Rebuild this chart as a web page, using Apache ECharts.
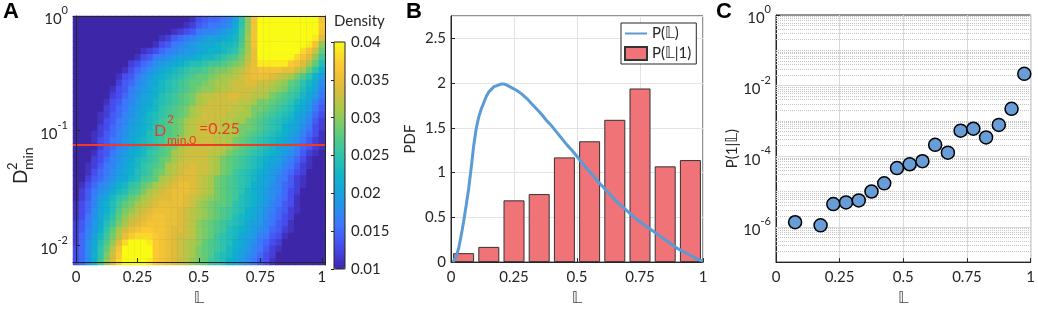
<!DOCTYPE html>
<html>
<head>
<meta charset="utf-8">
<script src="https://cdn.jsdelivr.net/npm/echarts@6/dist/echarts.min.js"></script>
<style>
html, body { margin: 0; padding: 0; background: #fff; }
#main { width: 1038px; height: 311px; }
</style>
</head>
<body>
<div id="main"></div>
<script>
var FONT = 'Lato, "DejaVu Sans", sans-serif';
var TXT = '#262626';
var RED = '#ec3b26';

// ---- panel A : density of D2min vs L ----
var binL = [0,0.025,0.05,0.075,0.1,0.125,0.15,0.175,0.2,0.225,0.25,0.275,0.3,0.325,0.35,0.375,0.4,0.425,0.45,0.475,0.5,0.525,0.55,0.575,0.6,0.625,0.65,0.675,0.7,0.725,0.75,0.775,0.8,0.825,0.85,0.875,0.9,0.925,0.95,0.975,1];
var ticksL = [0, 0.25, 0.5, 0.75, 1];
var d2Min = 0.00716, d2Max = 1;     // log y range of panel A
var thresholdD2 = 0.075;            // red line
// density x1000, rows from top (D2min = 1) to bottom
var densityRows = [
[10,10,10,10,10,10,10,10,10,10,10,10,10,10,10,10,10,10,10,11,13,14,15,15,16,17,20,25,30,36,41,41,41,41,41,41,41,41,41,41,36],
[10,10,10,10,10,10,10,10,10,10,10,10,10,10,10,10,10,10,11,12,14,15,16,16,17,18,21,25,30,36,41,41,41,41,41,41,41,41,41,41,37],
[10,10,10,10,10,10,10,10,10,10,10,10,10,10,10,10,11,12,13,14,16,17,17,18,19,20,22,26,30,36,41,41,41,41,41,41,41,41,41,40,36],
[10,10,10,10,10,10,10,10,10,10,10,10,10,10,11,12,14,15,16,17,18,19,20,20,21,22,23,26,31,36,41,41,41,41,41,41,41,41,41,39,34],
[10,10,10,10,10,10,10,10,10,10,10,10,10,11,13,14,16,17,18,19,20,21,21,22,23,23,24,27,31,36,41,41,41,41,41,41,41,41,39,36,30],
[10,10,10,10,10,10,10,10,10,10,10,11,12,13,15,16,17,18,19,19,20,21,22,22,23,24,25,28,31,35,40,40,40,40,40,40,40,38,36,33,28],
[10,10,10,10,10,10,10,10,10,10,11,13,14,16,17,18,19,20,20,21,22,23,23,24,25,26,27,29,32,35,40,40,40,40,40,40,38,36,34,30,26],
[10,10,10,10,10,10,10,10,10,12,13,15,16,18,19,20,21,22,23,24,24,25,26,26,27,28,29,30,33,35,39,39,39,39,39,37,36,34,31,28,24],
[10,10,10,10,10,10,10,10,11,13,15,16,18,19,21,22,23,24,25,26,26,27,28,29,29,30,31,32,34,35,36,36,36,36,35,35,33,31,28,25,22],
[10,10,10,10,10,10,10,11,13,14,16,18,19,21,22,23,24,25,26,27,28,28,29,30,31,31,32,33,34,35,35,35,34,33,32,31,29,27,25,22,19],
[10,10,10,10,10,10,10,12,14,15,17,18,20,21,23,24,25,26,27,28,28,29,30,31,31,32,33,33,34,34,33,33,32,31,30,28,27,25,23,21,18],
[10,10,10,10,10,10,11,13,14,16,18,19,20,22,23,24,25,26,27,28,29,30,30,31,32,32,33,33,33,33,32,32,31,30,29,27,26,24,22,20,17],
[10,10,10,10,10,10,12,13,15,17,18,20,21,22,24,25,26,27,28,29,31,32,32,33,33,34,34,33,33,32,32,31,29,28,27,26,25,23,21,19,16],
[10,10,10,10,10,11,13,14,16,17,19,20,21,23,24,25,26,27,28,29,31,32,33,33,33,33,33,32,32,31,29,29,28,27,26,25,23,22,20,17,15],
[10,10,10,10,10,12,13,15,16,18,19,21,22,23,25,26,27,28,29,31,32,33,33,33,33,33,32,32,31,29,29,28,27,26,25,24,22,21,19,16,14],
[10,10,10,10,11,12,14,15,17,18,20,21,23,24,25,26,27,28,29,31,32,33,33,33,33,32,32,31,31,29,28,27,26,25,24,23,21,20,18,15,13],
[10,10,10,10,11,13,14,16,17,19,20,22,23,24,26,27,28,29,31,32,33,33,33,33,32,32,31,31,29,28,27,26,25,24,23,22,20,19,17,14,12],
[10,10,10,10,12,13,15,16,18,19,21,22,23,25,26,27,28,29,31,32,33,33,33,33,32,32,31,29,29,28,27,26,25,24,22,21,20,18,16,13,12],
[10,10,10,11,12,14,15,17,18,20,21,22,24,25,26,27,28,29,31,32,33,33,33,32,32,31,31,29,28,27,26,25,24,23,22,20,19,17,15,13,11],
[10,10,10,11,13,14,16,17,19,20,22,23,24,25,26,28,29,31,32,33,33,33,33,32,32,31,29,28,27,26,25,24,23,22,21,19,18,16,14,12,11],
[10,10,10,10,12,14,15,17,18,20,21,23,24,25,27,28,29,31,32,33,33,33,33,32,32,31,29,28,27,26,25,24,23,21,20,19,17,15,14,12,11],
[10,10,10,11,13,14,16,18,19,21,22,23,25,26,27,28,31,32,33,33,33,33,32,32,31,29,28,27,26,25,24,23,22,21,19,18,16,14,12,11,10],
[10,10,10,12,13,15,17,18,20,21,23,24,25,26,28,29,31,32,33,33,33,33,32,31,29,28,27,26,25,24,23,22,21,20,18,17,15,13,11,10,10],
[10,10,11,12,14,16,17,19,20,22,23,25,26,27,28,31,32,33,33,34,33,33,32,31,29,28,27,26,25,24,23,21,20,19,17,16,14,12,11,10,10],
[10,10,11,13,15,16,18,19,21,22,24,25,26,28,29,31,32,33,34,34,33,33,32,31,29,28,26,25,24,23,22,21,19,18,16,15,13,12,10,10,10],
[10,10,12,14,15,17,18,20,21,23,24,26,27,28,31,32,33,34,34,34,33,32,31,29,28,27,26,25,24,23,21,20,19,17,16,14,12,11,10,10,10],
[10,11,13,15,17,18,20,22,23,25,26,28,29,31,32,33,34,35,35,34,33,32,31,29,28,27,26,25,24,22,21,20,18,17,15,14,12,11,10,10,10],
[10,12,14,16,18,19,21,23,24,26,27,29,31,32,33,34,35,35,35,34,33,32,31,29,28,27,26,25,23,22,21,19,18,17,15,13,12,10,10,10,10],
[10,12,14,17,19,21,23,25,26,28,29,31,32,33,34,34,35,35,34,33,32,31,30,29,28,27,26,24,23,22,21,19,18,16,15,13,11,10,10,10,10],
[11,13,15,17,20,22,24,26,28,29,31,32,33,34,35,35,35,35,34,33,31,30,29,28,28,27,25,24,23,22,20,19,17,16,14,13,11,10,10,10,10],
[11,13,15,18,20,22,24,27,29,30,32,33,34,35,35,35,35,34,33,32,31,30,29,28,27,26,25,24,22,21,20,18,17,15,14,12,11,10,10,10,10],
[11,13,16,18,21,23,25,28,30,32,33,34,35,36,36,35,35,34,33,32,31,30,29,28,27,26,24,23,22,21,19,18,16,15,13,12,10,10,10,10,10],
[12,14,16,19,21,24,26,29,31,33,34,35,36,36,36,35,35,34,33,32,30,29,28,27,26,25,24,23,21,20,19,17,16,14,13,11,10,10,10,10,10],
[12,14,17,19,22,25,28,31,33,35,36,37,37,36,36,35,34,34,33,32,30,29,28,27,26,24,23,22,21,19,18,17,15,14,12,11,10,10,10,10,10],
[12,15,17,20,23,26,29,32,35,37,38,38,38,37,36,35,34,33,33,32,30,29,28,26,25,24,23,21,20,19,17,16,14,13,11,10,10,10,10,10,10],
[12,15,18,21,24,27,30,34,38,40,40,40,39,37,36,35,34,33,32,31,30,28,27,26,25,24,22,21,19,18,16,15,13,12,10,10,10,10,10,10,10],
[13,15,18,21,25,28,32,36,40,41,41,41,40,37,36,35,34,33,32,31,29,28,27,26,25,23,22,20,19,17,16,14,12,11,10,10,10,10,10,10,10],
[13,15,18,22,25,29,33,37,41,42,42,41,40,37,36,35,34,33,32,31,29,28,27,25,24,23,21,20,18,17,15,13,12,10,10,10,10,10,10,10,10],
[13,15,18,22,26,30,34,38,41,42,42,41,39,37,36,35,34,33,32,30,29,28,26,25,24,22,21,19,18,16,14,13,11,10,10,10,10,10,10,10,10]
];
var parula = ['#3e26a8','#474cee','#3c78fc','#1f9ae4','#0fb1cd','#2ec3ac','#60cc7a','#a6c94c','#e0bc3a','#fcc834','#f9fb15'];

// ---- panel B : PDFs ----
var histCenters = [0.05,0.15,0.25,0.35,0.45,0.55,0.65,0.75,0.85,0.95];
var histPdf = [0.10,0.17,0.69,0.76,1.17,1.35,1.59,1.94,1.07,1.14];
var pdfX = [0.008,0.02,0.03,0.04,0.05,0.06,0.07,0.08,0.09,0.10,0.11,0.12,0.13,0.14,0.15,0.16,0.17,0.18,0.19,0.20,0.21,0.22,0.24,0.26,0.28,0.30,0.32,0.34,0.36,0.38,0.40,0.42,0.44,0.46,0.48,0.50,0.52,0.54,0.56,0.58,0.60,0.62,0.64,0.66,0.68,0.70,0.72,0.74,0.76,0.78,0.80,0.82,0.84,0.86,0.88,0.90,0.92,0.94,0.96,0.98,1.00];
var pdfY = [0,0.06,0.15,0.29,0.45,0.63,0.82,1.05,1.30,1.49,1.62,1.71,1.78,1.85,1.90,1.93,1.96,1.97,1.98,1.99,1.99,1.98,1.95,1.92,1.88,1.83,1.77,1.71,1.65,1.58,1.52,1.45,1.38,1.31,1.25,1.18,1.11,1.04,0.98,0.91,0.85,0.79,0.73,0.67,0.62,0.57,0.52,0.47,0.43,0.39,0.35,0.31,0.27,0.23,0.19,0.15,0.12,0.09,0.06,0.03,0.01];

// ---- panel C : P(1|L) ----
var condX = [0.075,0.175,0.225,0.275,0.325,0.375,0.425,0.475,0.525,0.575,0.625,0.675,0.725,0.775,0.825,0.875,0.925,0.975];
var condP = [1.35e-6,1.1e-6,4.4e-6,4.9e-6,5.6e-6,1.0e-5,1.7e-5,4.6e-5,5.9e-5,7.2e-5,2.1e-4,1.26e-4,5.3e-4,6.0e-4,3.4e-4,7.7e-4,2.2e-3,2.15e-2];

// build tables
var rowIdx = [];
for (var r = 0; r < densityRows.length; r++) rowIdx.push(String(r));
var heatData = [];
densityRows.forEach(function (row, k) {
    row.forEach(function (v, c) {
        heatData.push([c, densityRows.length - 1 - k, v / 1000]);
    });
});
var histData = histCenters.map(function (x, i) { return [x, histPdf[i]]; });
var pdfData = pdfX.map(function (x, i) { return [x, pdfY[i]]; });
var condData = condX.map(function (x, i) { return [x, condP[i]]; });

// grid of panel C: solid at labelled decades, dotted elsewhere
var gridLinesC = [];
[-7, -6, -5, -4, -3, -2, -1].forEach(function (d) {
    for (var m = 1; m < 10; m++) {
        if (m === 1 && d === -7) continue;
        var major = (m === 1 && d % 2 === 0);
        gridLinesC.push({
            yAxis: m * Math.pow(10, d),
            lineStyle: major ? { type: 'solid', color: '#d9d9d9' } : { type: 'dotted', color: '#c4c4c4' }
        });
    }
});

function powLabel(v) {
    var e = Math.round(Math.log(v) / Math.LN10);
    return '{b|10}{s|' + e + '}';
}
var richPow = {
    b: { fontSize: 15, fontFamily: FONT, color: TXT, padding: [7, 0, 0, 0], verticalAlign: 'bottom' },
    s: { fontSize: 11, fontFamily: FONT, color: TXT, verticalAlign: 'top' }
};
var lbl = { color: TXT, fontSize: 15, fontFamily: FONT };
var lineDark = { show: true, lineStyle: { color: TXT, width: 1 } };
var tickIn = { show: true, inside: true, length: 4, lineStyle: { color: TXT } };
var nameL = { color: '#444', fontSize: 16, fontFamily: FONT };

var myChart = echarts.init(document.getElementById('main'));
var option = {
    animation: false,
    grid: [
        { left: 73, top: 16, width: 252, height: 249 },                                          // heatmap
        { left: 73, top: 16, width: 252, height: 252, show: true, backgroundColor: '#3e26a8', borderWidth: 0 },
        { left: 451, top: 16, width: 252, height: 253, show: true, borderColor: TXT, borderWidth: 1 },
        { left: 776, top: 15, width: 257, height: 254, show: true, borderColor: TXT, borderWidth: 1 },
        { left: 334, top: 42, width: 11, height: 227, show: true, borderColor: TXT, borderWidth: 1, backgroundColor: 'transparent', z: 5 }
    ],
    xAxis: [
        { gridIndex: 0, type: 'category', data: binL, position: 'top', axisLine: lineDark, axisTick: { show: false }, axisLabel: { show: false }, z: 10 },
        { gridIndex: 1, type: 'value', min: -0.0125, max: 1.0125, axisLine: lineDark, splitLine: { show: false },
          axisTick: { show: true, inside: true, length: 4, customValues: ticksL, lineStyle: { color: TXT } },
          axisLabel: Object.assign({ customValues: ticksL, margin: 8 }, lbl),
          name: '𝕃', nameLocation: 'middle', nameGap: 22, nameTextStyle: nameL, z: 10 },
        { gridIndex: 2, type: 'value', min: 0, max: 1, interval: 0.25, axisLine: lineDark, axisTick: tickIn,
          splitLine: { show: true, lineStyle: { color: '#e3e3e3' } }, axisLabel: Object.assign({ margin: 8 }, lbl),
          name: '𝕃', nameLocation: 'middle', nameGap: 22, nameTextStyle: nameL },
        { gridIndex: 3, type: 'value', min: 0, max: 1, interval: 0.25, axisLine: lineDark, axisTick: tickIn,
          splitLine: { show: true, lineStyle: { color: '#d9d9d9' } }, axisLabel: Object.assign({ margin: 8 }, lbl),
          name: '𝕃', nameLocation: 'middle', nameGap: 22, nameTextStyle: nameL },
        { gridIndex: 4, type: 'value', show: false }
    ],
    yAxis: [
        { gridIndex: 0, type: 'category', data: rowIdx, position: 'right', axisLine: lineDark, axisTick: { show: false }, axisLabel: { show: false }, z: 10 },
        { gridIndex: 1, type: 'log', logBase: 10, min: d2Min, max: d2Max, splitNumber: 3, axisLine: lineDark, axisTick: tickIn,
          splitLine: { show: false }, axisLabel: { formatter: powLabel, rich: richPow, showMinLabel: false, margin: 5 }, z: 10 },
        { gridIndex: 2, type: 'value', min: 0, max: 2.75, interval: 0.5, axisLine: lineDark, axisTick: tickIn,
          splitLine: { show: true, lineStyle: { color: '#e3e3e3' } }, axisLabel: Object.assign({ showMaxLabel: false, margin: 5 }, lbl),
          name: 'PDF', nameLocation: 'middle', nameGap: 33, nameTextStyle: { color: TXT, fontSize: 15, fontFamily: FONT } },
        { gridIndex: 3, type: 'log', logBase: 100, min: 1e-7, max: 1, splitNumber: 3, axisLine: lineDark, axisTick: tickIn,
          splitLine: { show: false },
          axisLabel: { formatter: powLabel, rich: richPow, showMinLabel: false, margin: 5 },
          name: 'P(1|𝕃)', nameLocation: 'middle', nameGap: 36,
          nameTextStyle: { color: TXT, fontSize: 15, fontFamily: FONT, padding: [0, 20, 0, 0] } },
        { gridIndex: 4, type: 'value', position: 'right', min: 0.01, max: 0.04, interval: 0.005, z: 6,
          axisLine: { show: false }, splitLine: { show: false },
          axisTick: { show: true, inside: true, length: 3, lineStyle: { color: TXT } },
          axisLabel: Object.assign({ margin: 6, formatter: function (v) { return String(+v.toFixed(3)); } }, lbl) }
    ],
    visualMap: {
        type: 'continuous', seriesIndex: 0, min: 0.01, max: 0.04, calculable: false,
        left: 334, top: 42, itemWidth: 11, itemHeight: 227, padding: 0,
        inRange: { color: parula }
    },
    legend: {
        data: [
            { name: 'P(𝕃)', itemStyle: { opacity: 0 } },
            { name: 'P(𝕃|1)', icon: 'rect' }
        ],
        orient: 'vertical', left: 621, top: 23,
        backgroundColor: '#fff', borderColor: TXT, borderWidth: 1, padding: [2, 5, 2, 3], itemGap: 3,
        itemWidth: 22, itemHeight: 13,
        textStyle: { color: TXT, fontSize: 15, fontFamily: FONT, lineHeight: 17 }
    },
    series: [
        { type: 'heatmap', xAxisIndex: 0, yAxisIndex: 0, data: heatData, emphasis: { disabled: true } },
        { type: 'line', xAxisIndex: 1, yAxisIndex: 1, data: [],
          markLine: { silent: true, symbol: 'none', label: { show: false }, precision: 10,
                      lineStyle: { color: RED, width: 2, type: 'solid' }, data: [{ yAxis: thresholdD2 }] } },
        { type: 'bar', name: 'P(𝕃|1)', xAxisIndex: 2, yAxisIndex: 2, data: histData, barWidth: 21,
          itemStyle: { color: '#f07378', borderColor: '#333', borderWidth: 1 } },
        { type: 'line', name: 'P(𝕃)', xAxisIndex: 2, yAxisIndex: 2, data: pdfData, symbol: 'none',
          lineStyle: { color: '#5b9bd5', width: 3 }, itemStyle: { color: '#5b9bd5' } },
        { type: 'scatter', xAxisIndex: 3, yAxisIndex: 3, data: condData, symbolSize: 13,
          itemStyle: { color: '#699dd8', borderColor: '#000', borderWidth: 1.5, opacity: 1 },
          markLine: { silent: true, z: 1, symbol: 'none', label: { show: false }, precision: 12,
                      lineStyle: { width: 1 }, data: gridLinesC } }
    ],
    graphic: [
        { type: 'text', x: 3, y: 1, style: { text: 'A', font: 'bold 22px "Liberation Sans", Arial', fill: '#000' } },
        { type: 'text', x: 406, y: 1, style: { text: 'B', font: 'bold 22px "Liberation Sans", Arial', fill: '#000' } },
        { type: 'text', x: 716, y: 1, style: { text: 'C', font: 'bold 22px "Liberation Sans", Arial', fill: '#000' } },
        { type: 'text', x: 334, y: 14, style: { text: 'Density', font: '15px ' + FONT, fill: TXT } },
        // red threshold label
        { type: 'text', x: 154, y: 131, z: 20, style: { text: 'D', font: '16px ' + FONT, fill: RED, verticalAlign: 'middle' } },
        { type: 'text', x: 167, y: 119, z: 20, style: { text: '2', font: '12px ' + FONT, fill: RED, verticalAlign: 'middle' } },
        { type: 'text', x: 167, y: 140, z: 20, style: { text: 'min,0', font: '12px ' + FONT, fill: RED, verticalAlign: 'middle' } },
        { type: 'text', x: 199, y: 129, z: 20, style: { text: '=0.25', font: '16px ' + FONT, fill: RED, verticalAlign: 'middle' } },
        // y name of panel A
        { type: 'group', x: 21, y: 184, rotation: Math.PI / 2, children: [
            { type: 'text', x: 0, y: 0, style: { text: 'D', font: '19px ' + FONT, fill: TXT, verticalAlign: 'middle' } },
            { type: 'text', x: 14, y: -8, style: { text: '2', font: '13px ' + FONT, fill: TXT, verticalAlign: 'middle' } },
            { type: 'text', x: 14, y: 7, style: { text: 'min', font: '14px ' + FONT, fill: TXT, verticalAlign: 'middle' } }
        ] }
    ]
};
myChart.setOption(option);
</script>
</body>
</html>
